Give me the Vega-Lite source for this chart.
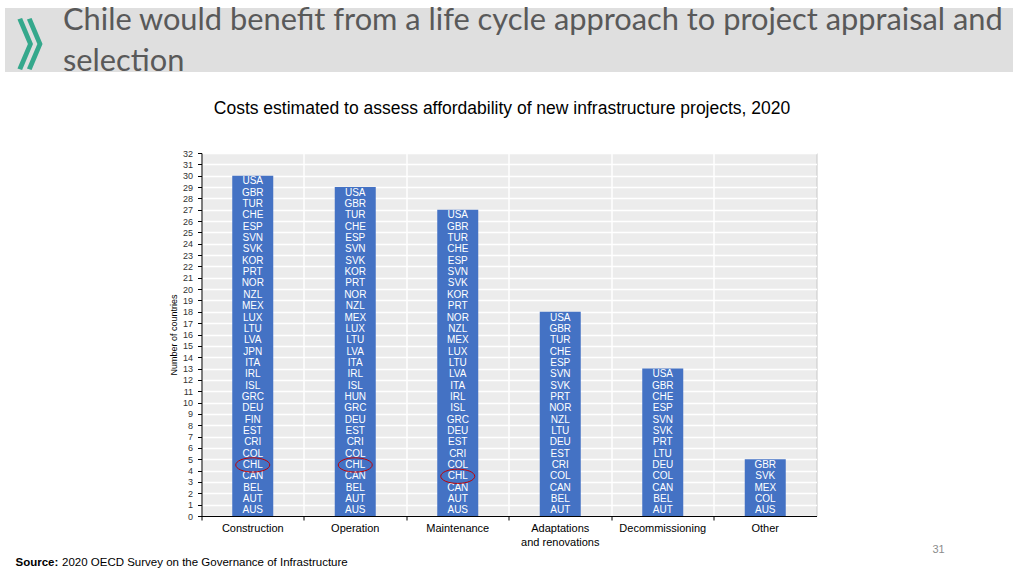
{
  "$schema": "https://vega.github.io/schema/vega-lite/v6.json",
  "background": "#ffffff",
  "padding": {"left": 5, "top": 5, "right": 5, "bottom": 0},
  "bounds": "flush",
  "center": true,
  "spacing": 81,
  "title": {"text": "》", "anchor": "start", "font": "Noto Sans CJK SC", "fontSize": 55, "fontWeight": "bold", "color": "#35a88c", "offset": -71, "dx": 11},
  "config": {
    "font": "Liberation Sans",
    "view": {"stroke": null},
    "axisY": {
      "title": "Number of countries",
      "titleFont": "Liberation Sans",
      "titleFontSize": 9,
      "titleFontWeight": "normal",
      "titleColor": "#000000",
      "titlePadding": 4,
      "labelFont": "Liberation Sans",
      "labelFontSize": 9,
      "labelColor": "#333333",
      "labelPadding": 5,
      "tickSize": 4,
      "tickColor": "#000000",
      "domainColor": "#000000",
      "grid": true,
      "gridColor": "#ffffff",
      "gridWidth": 1.5
    }
  },
  "vconcat": [
    {
      "width": 1008,
      "height": 64,
      "view": {"fill": "#dfdfdf", "stroke": null},
      "title": {
        "text": ["Chile would benefit from a life cycle approach to project appraisal and", "selection"],
        "anchor": "start",
        "font": "Lato",
        "fontSize": 30.8,
        "fontWeight": "normal",
        "color": "#595959",
        "lineHeight": 41,
        "dx": 58,
        "offset": -70
      },
      "data": {"values": [{"label": ""}]},
      "mark": {"type": "text"},
      "encoding": {"text": {"field": "label"}}
    },
    {
      "width": 615,
      "height": 363,
      "view": {"fill": "#ececec", "stroke": "#c8c8c8", "strokeWidth": 1},
      "title": {
        "text": "Costs estimated to assess affordability of new infrastructure projects, 2020",
        "font": "Liberation Sans",
        "fontSize": 17.5,
        "fontWeight": "normal",
        "color": "#000000",
        "anchor": "middle",
        "offset": 32,
        "dx": -7
      },
      "data": {"values": [
        {"category": "Construction", "country": "AUS"},
        {"category": "Construction", "country": "AUT"},
        {"category": "Construction", "country": "BEL"},
        {"category": "Construction", "country": "CAN"},
        {"category": "Construction", "country": "CHL"},
        {"category": "Construction", "country": "COL"},
        {"category": "Construction", "country": "CRI"},
        {"category": "Construction", "country": "EST"},
        {"category": "Construction", "country": "FIN"},
        {"category": "Construction", "country": "DEU"},
        {"category": "Construction", "country": "GRC"},
        {"category": "Construction", "country": "ISL"},
        {"category": "Construction", "country": "IRL"},
        {"category": "Construction", "country": "ITA"},
        {"category": "Construction", "country": "JPN"},
        {"category": "Construction", "country": "LVA"},
        {"category": "Construction", "country": "LTU"},
        {"category": "Construction", "country": "LUX"},
        {"category": "Construction", "country": "MEX"},
        {"category": "Construction", "country": "NZL"},
        {"category": "Construction", "country": "NOR"},
        {"category": "Construction", "country": "PRT"},
        {"category": "Construction", "country": "KOR"},
        {"category": "Construction", "country": "SVK"},
        {"category": "Construction", "country": "SVN"},
        {"category": "Construction", "country": "ESP"},
        {"category": "Construction", "country": "CHE"},
        {"category": "Construction", "country": "TUR"},
        {"category": "Construction", "country": "GBR"},
        {"category": "Construction", "country": "USA"},
        {"category": "Operation", "country": "AUS"},
        {"category": "Operation", "country": "AUT"},
        {"category": "Operation", "country": "BEL"},
        {"category": "Operation", "country": "CAN"},
        {"category": "Operation", "country": "CHL"},
        {"category": "Operation", "country": "COL"},
        {"category": "Operation", "country": "CRI"},
        {"category": "Operation", "country": "EST"},
        {"category": "Operation", "country": "DEU"},
        {"category": "Operation", "country": "GRC"},
        {"category": "Operation", "country": "HUN"},
        {"category": "Operation", "country": "ISL"},
        {"category": "Operation", "country": "IRL"},
        {"category": "Operation", "country": "ITA"},
        {"category": "Operation", "country": "LVA"},
        {"category": "Operation", "country": "LTU"},
        {"category": "Operation", "country": "LUX"},
        {"category": "Operation", "country": "MEX"},
        {"category": "Operation", "country": "NZL"},
        {"category": "Operation", "country": "NOR"},
        {"category": "Operation", "country": "PRT"},
        {"category": "Operation", "country": "KOR"},
        {"category": "Operation", "country": "SVK"},
        {"category": "Operation", "country": "SVN"},
        {"category": "Operation", "country": "ESP"},
        {"category": "Operation", "country": "CHE"},
        {"category": "Operation", "country": "TUR"},
        {"category": "Operation", "country": "GBR"},
        {"category": "Operation", "country": "USA"},
        {"category": "Maintenance", "country": "AUS"},
        {"category": "Maintenance", "country": "AUT"},
        {"category": "Maintenance", "country": "CAN"},
        {"category": "Maintenance", "country": "CHL"},
        {"category": "Maintenance", "country": "COL"},
        {"category": "Maintenance", "country": "CRI"},
        {"category": "Maintenance", "country": "EST"},
        {"category": "Maintenance", "country": "DEU"},
        {"category": "Maintenance", "country": "GRC"},
        {"category": "Maintenance", "country": "ISL"},
        {"category": "Maintenance", "country": "IRL"},
        {"category": "Maintenance", "country": "ITA"},
        {"category": "Maintenance", "country": "LVA"},
        {"category": "Maintenance", "country": "LTU"},
        {"category": "Maintenance", "country": "LUX"},
        {"category": "Maintenance", "country": "MEX"},
        {"category": "Maintenance", "country": "NZL"},
        {"category": "Maintenance", "country": "NOR"},
        {"category": "Maintenance", "country": "PRT"},
        {"category": "Maintenance", "country": "KOR"},
        {"category": "Maintenance", "country": "SVK"},
        {"category": "Maintenance", "country": "SVN"},
        {"category": "Maintenance", "country": "ESP"},
        {"category": "Maintenance", "country": "CHE"},
        {"category": "Maintenance", "country": "TUR"},
        {"category": "Maintenance", "country": "GBR"},
        {"category": "Maintenance", "country": "USA"},
        {"category": "Adaptations and renovations", "country": "AUT"},
        {"category": "Adaptations and renovations", "country": "BEL"},
        {"category": "Adaptations and renovations", "country": "CAN"},
        {"category": "Adaptations and renovations", "country": "COL"},
        {"category": "Adaptations and renovations", "country": "CRI"},
        {"category": "Adaptations and renovations", "country": "EST"},
        {"category": "Adaptations and renovations", "country": "DEU"},
        {"category": "Adaptations and renovations", "country": "LTU"},
        {"category": "Adaptations and renovations", "country": "NZL"},
        {"category": "Adaptations and renovations", "country": "NOR"},
        {"category": "Adaptations and renovations", "country": "PRT"},
        {"category": "Adaptations and renovations", "country": "SVK"},
        {"category": "Adaptations and renovations", "country": "SVN"},
        {"category": "Adaptations and renovations", "country": "ESP"},
        {"category": "Adaptations and renovations", "country": "CHE"},
        {"category": "Adaptations and renovations", "country": "TUR"},
        {"category": "Adaptations and renovations", "country": "GBR"},
        {"category": "Adaptations and renovations", "country": "USA"},
        {"category": "Decommissioning", "country": "AUT"},
        {"category": "Decommissioning", "country": "BEL"},
        {"category": "Decommissioning", "country": "CAN"},
        {"category": "Decommissioning", "country": "COL"},
        {"category": "Decommissioning", "country": "DEU"},
        {"category": "Decommissioning", "country": "LTU"},
        {"category": "Decommissioning", "country": "PRT"},
        {"category": "Decommissioning", "country": "SVK"},
        {"category": "Decommissioning", "country": "SVN"},
        {"category": "Decommissioning", "country": "ESP"},
        {"category": "Decommissioning", "country": "CHE"},
        {"category": "Decommissioning", "country": "GBR"},
        {"category": "Decommissioning", "country": "USA"},
        {"category": "Other", "country": "AUS"},
        {"category": "Other", "country": "COL"},
        {"category": "Other", "country": "MEX"},
        {"category": "Other", "country": "SVK"},
        {"category": "Other", "country": "GBR"}
      ]},
      "transform": [
        {"window": [{"op": "row_number", "as": "n"}], "groupby": ["category"]}
      ],
      "encoding": {
        "x": {
          "field": "category",
          "type": "nominal",
          "sort": ["Construction", "Operation", "Maintenance", "Adaptations and renovations", "Decommissioning", "Other"],
          "scale": {"paddingInner": 0.6, "paddingOuter": 0.3},
          "axis": {
            "title": null,
            "labelAngle": 0,
            "labelFont": "Liberation Sans",
            "labelFontSize": 11,
            "labelColor": "#000000",
            "labelPadding": 2,
            "labelLineHeight": 14,
            "labelExpr": "datum.value == 'Adaptations and renovations' ? ['Adaptations', 'and renovations'] : datum.value",
            "bandPosition": -0.75,
            "ticks": true,
            "tickColor": "#000000",
            "tickSize": 4,
            "domainColor": "#000000",
            "grid": true,
            "gridColor": "#ffffff",
            "gridWidth": 1.5
          }
        }
      },
      "layer": [
        {
          "mark": {"type": "bar", "color": "#4472c4"},
          "encoding": {
            "y": {
              "aggregate": "count",
              "type": "quantitative",
              "scale": {"domain": [0, 32], "nice": false},
              "axis": {"title": "Number of countries", "values": [0,1,2,3,4,5,6,7,8,9,10,11,12,13,14,15,16,17,18,19,20,21,22,23,24,25,26,27,28,29,30,31,32]}
            }
          }
        },
        {
          "mark": {"type": "text", "color": "#ffffff", "font": "Liberation Sans", "fontSize": 10, "baseline": "middle", "dy": 5.7},
          "encoding": {
            "y": {"field": "n", "type": "quantitative", "scale": {"domain": [0, 32], "nice": false}, "axis": {"title": "Number of countries", "values": [0,1,2,3,4,5,6,7,8,9,10,11,12,13,14,15,16,17,18,19,20,21,22,23,24,25,26,27,28,29,30,31,32]}},
            "text": {"field": "country", "type": "nominal"}
          }
        },
        {
          "transform": [{"filter": "datum.country == 'CHL'"}],
          "mark": {"type": "point", "shape": "M -1 0.333 A 1 0.42 0 1 0 1 0.333 A 1 0.42 0 1 0 -1 0.333 Z", "size": 1156, "filled": false, "stroke": "#c00000", "strokeWidth": 1, "opacity": 1},
          "encoding": {
            "y": {"field": "n", "type": "quantitative", "scale": {"domain": [0, 32], "nice": false}, "axis": {"title": "Number of countries", "values": [0,1,2,3,4,5,6,7,8,9,10,11,12,13,14,15,16,17,18,19,20,21,22,23,24,25,26,27,28,29,30,31,32]}}
          }
        }
      ]
    },
    {
      "width": 1008,
      "height": 1,
      "view": {"fill": null, "stroke": null},
      "title": {
        "text": "2020 OECD Survey on the Governance of Infrastructure",
        "orient": "bottom",
        "anchor": "start",
        "baseline": "alphabetic",
        "font": "Liberation Sans",
        "fontSize": 11.5,
        "fontWeight": "normal",
        "color": "#000000",
        "dx": 57,
        "offset": -37
      },
      "data": {"values": [{"label": ""}]},
      "mark": {"type": "text"},
      "encoding": {
        "text": {"field": "label"},
        "x": {"datum": 0, "type": "quantitative", "scale": {"domain": [0, 1]}, "axis": {"title": "Source:", "titleAnchor": "start", "titleFont": "Liberation Sans", "titleFontSize": 11.5, "titleFontWeight": "bold", "titleColor": "#000000", "titleX": 10, "titleY": -33, "titleBaseline": "alphabetic", "labels": false, "ticks": false, "domain": false, "grid": false}},
        "y": {"datum": 0, "type": "quantitative", "scale": {"domain": [0, 1]}, "axis": {"title": "31", "orient": "right", "titleAngle": 0, "titleX": -75, "titleY": -45, "titleFont": "Liberation Sans", "titleFontSize": 11, "titleFontWeight": "normal", "titleColor": "#8c8c8c", "titleBaseline": "alphabetic", "labels": false, "ticks": false, "domain": false, "grid": false}}
      }
    }
  ]
}
